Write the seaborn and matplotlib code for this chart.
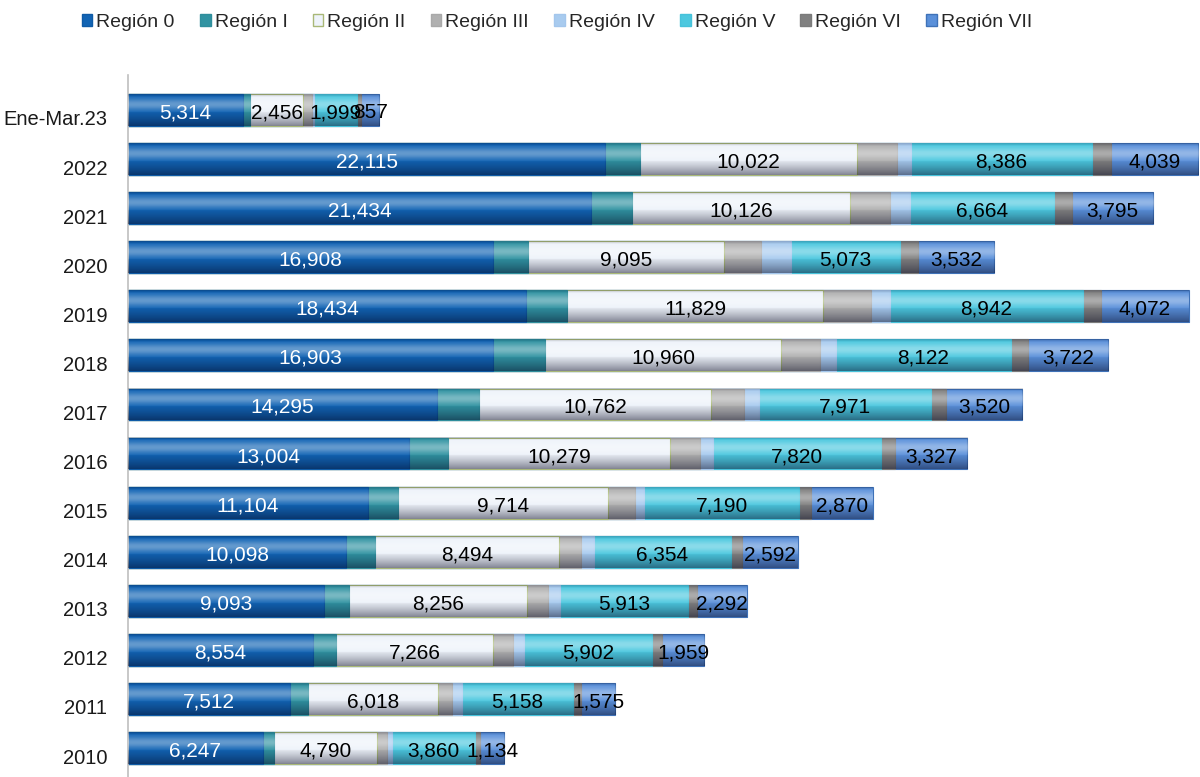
import numpy as np
import pandas as pd
import matplotlib
matplotlib.use("Agg")
import matplotlib.pyplot as plt
from matplotlib.transforms import ScaledTranslation
from matplotlib.patches import Patch
import seaborn as sns

categories = ["Ene-Mar.23", "2022", "2021", "2020", "2019", "2018", "2017",
              "2016", "2015", "2014", "2013", "2012", "2011", "2010"]
regions = ["Región 0", "Región I", "Región II", "Región III",
           "Región IV", "Región V", "Región VI", "Región VII"]

region_0 = [5314, 22115, 21434, 16908, 18434, 16903, 14295, 13004, 11104, 10098, 9093, 8554, 7512, 6247]
region_1 = [340, 1620, 1890, 1620, 1920, 2400, 1960, 1830, 1400, 1355, 1145, 1080, 820, 510]
region_2 = [2456, 10022, 10126, 9095, 11829, 10960, 10762, 10279, 9714, 8494, 8256, 7266, 6018, 4790]
region_3 = [400, 1860, 1850, 1710, 2240, 1790, 1505, 1375, 1250, 1020, 940, 955, 680, 430]
region_4 = [110, 650, 910, 1370, 875, 720, 700, 590, 430, 615, 575, 510, 430, 230]
region_5 = [1999, 8386, 6664, 5073, 8942, 8122, 7971, 7820, 7190, 6354, 5913, 5902, 5158, 3860]
region_6 = [170, 880, 830, 810, 830, 785, 700, 650, 530, 495, 450, 460, 385, 230]
region_7 = [857, 4039, 3795, 3532, 4072, 3722, 3520, 3327, 2870, 2592, 2292, 1959, 1575, 1134]

series = [region_0, region_1, region_2, region_3, region_4, region_5, region_6, region_7]
labelled = [True, False, True, False, False, True, False, True]
label_colors = ["white", "black", "black", "black", "black", "black", "black", "black"]

colors = ["#1264b4", "#3193a2", "#eef3fa", "#b0b0b0", "#a8cbef", "#4cc8df", "#808080", "#5a90da"]
edges = ["#0f5ba6", "#2f8e9c", "#a9b877", "#a9a9a9", "#a3c6ec", "#46c2da", "#7b7b7b", "#3f72b8"]

sns.set_theme(style="white")
plt.rcParams["font.family"] = ["Liberation Sans", "DejaVu Sans"]

df = pd.DataFrame({r: s for r, s in zip(regions, series)}, index=categories)
cum = df.cumsum(axis=1)
left = cum - df

fig = plt.figure(figsize=(12, 7.77), dpi=100)
ax = fig.add_axes([128 / 1200, 0.0, 1 - 128 / 1200 - 0.001, 1 - 75 / 777])

BW = 0.65
# draw cumulative layers from the outermost to the innermost
for i in range(len(regions) - 1, -1, -1):
    d = pd.DataFrame({"cat": categories, "val": cum[regions[i]].values})
    sns.barplot(data=d, x="val", y="cat", order=categories, orient="h",
                color=colors[i], saturation=1, width=BW,
                edgecolor=edges[i], linewidth=0.8, ax=ax)

# glossy shading overlay across each full bar
n = 64
t = np.linspace(0, 1, n)
rgba = np.zeros((n, 1, 4))
hl = np.exp(-((t - 0.32) / 0.18) ** 2)
dark = np.clip((t - 0.45) / 0.55, 0, 1) ** 1.3
top_dark = np.clip((0.12 - t) / 0.12, 0, 1)
for k in range(n):
    if hl[k] * 0.35 >= dark[k] * 0.45 + top_dark[k] * 0.15:
        rgba[k, 0] = [1, 1, 1, hl[k] * 0.35]
    else:
        rgba[k, 0] = [0, 0, 0.1, dark[k] * 0.45 + top_dark[k] * 0.15]
totals = cum[regions[-1]].values
for j, tot in enumerate(totals):
    ax.imshow(rgba, extent=(0, tot, j + BW / 2, j - BW / 2), aspect="auto",
              interpolation="bilinear", zorder=3)

label_off = ScaledTranslation(0, -3 / 100, fig.dpi_scale_trans)
for i, r in enumerate(regions):
    if not labelled[i]:
        continue
    for j, c in enumerate(categories):
        v = df.loc[c, r]
        ax.text(left.loc[c, r] + v / 2, j, f"{v:,}", ha="center", va="center",
                fontsize=15, color=label_colors[i], zorder=5,
                transform=ax.transData + label_off)

ax.set_xlim(0, 49600)
ax.set_ylim(13 + 29 / 49.08, -35 / 49.08)
ax.set_xlabel("")
ax.set_ylabel("")
ax.set_xticks([])
ax.tick_params(axis="y", length=0, pad=15, labelsize=14.5, colors="#1a1a1a")
offset = ScaledTranslation(0, -8 / 100, fig.dpi_scale_trans)
for lab in ax.get_yticklabels():
    lab.set_transform(lab.get_transform() + offset)

for s in ["top", "right", "bottom"]:
    ax.spines[s].set_visible(False)
ax.spines["left"].set_color("#bfbfbf")
ax.spines["left"].set_linewidth(1.2)

handles = [Patch(facecolor=colors[i], edgecolor=edges[i], label=regions[i]) for i in range(len(regions))]
fig.legend(handles=handles, loc="center", bbox_to_anchor=(0.464, 0.971), ncol=8,
           frameon=False, fontsize=14, handlelength=0.55, handleheight=0.6,
           handletextpad=0.2, columnspacing=1.3)

fig.savefig("out.png", dpi=100)
